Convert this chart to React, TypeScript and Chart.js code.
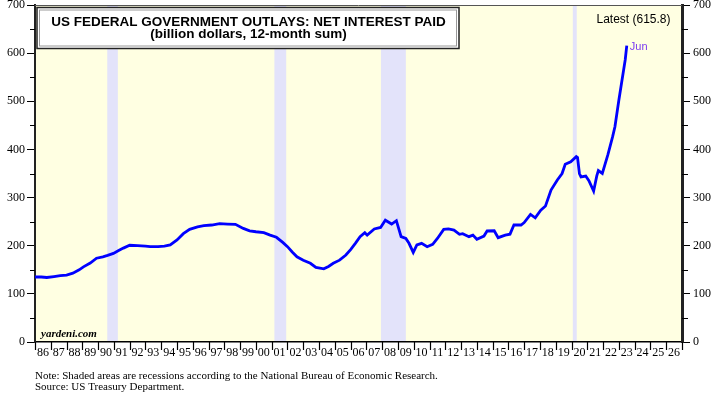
import React, { useEffect, useRef } from 'react';
import { Chart, registerables } from 'chart.js';

Chart.register(...registerables);

// ---- Data (decimal year, billion dollars, 12-month sum) ----
const dates: number[] = [
  1986.0, 1986.4, 1986.75, 1987.2, 1987.6, 1988.0, 1988.4, 1988.8, 1989.07, 1989.5, 1989.9,
  1990.3, 1990.6, 1990.97, 1991.3, 1991.6, 1992.0, 1992.5, 1993.0, 1993.3, 1993.8, 1994.2,
  1994.57, 1995.0, 1995.4, 1995.8, 1996.3, 1996.7, 1997.2, 1997.7, 1998.2, 1998.7, 1999.2,
  1999.6, 2000.0, 2000.5, 2000.9, 2001.3, 2001.7, 2002.0, 2002.3, 2002.6, 2003.0, 2003.45,
  2003.8, 2004.3, 2004.6, 2004.9, 2005.3, 2005.7, 2006.0, 2006.3, 2006.6, 2006.9, 2007.05,
  2007.5, 2007.9, 2008.2, 2008.6, 2008.9, 2009.2, 2009.5, 2009.7, 2009.97, 2010.2, 2010.5,
  2010.85, 2011.2, 2011.5, 2011.9, 2012.2, 2012.55, 2012.9, 2013.1, 2013.5, 2013.75, 2014.0,
  2014.45, 2014.65, 2015.1, 2015.35, 2015.8, 2016.1, 2016.35, 2016.8, 2017.0, 2017.4, 2017.7,
  2018.05, 2018.35, 2018.7, 2019.1, 2019.4, 2019.6, 2019.95, 2020.3, 2020.38, 2020.5, 2020.6,
  2020.9, 2021.1, 2021.4, 2021.6, 2021.7, 2021.95, 2022.3, 2022.6, 2022.75, 2023.0, 2023.3,
  2023.4, 2023.5,
];
const interestPaid: number[] = [
  135, 135, 134, 136, 138, 139, 143, 150, 156, 164, 174,
  177, 180, 184, 190, 195, 201, 200, 199, 198, 198, 199,
  201.5, 212, 225, 234, 239, 241.6, 243, 245.8, 245, 244.5, 236,
  231, 229, 227, 222, 217.5, 207, 198, 187, 177, 170, 163.5,
  155, 152, 157, 163.5, 170, 180.7, 192, 205, 218.8, 227, 222,
  234.7, 238, 253, 245, 252, 218.8, 215, 205, 186, 201.5, 205,
  198, 203, 215, 234, 235, 232.6, 223.7, 225, 218.8, 222, 213.3,
  220, 230.6, 231, 216.7, 222, 224, 243, 243, 248, 265, 258,
  274, 282.5, 315.7, 336.5, 350, 369, 374.5, 385, 383, 350, 343,
  344.8, 335, 313.7, 345, 356, 350, 388.5, 426, 447, 502.7, 565,
  585.8, 615.8,
];

const yearLabels: string[] = [
  '86', '87', '88', '89', '90', '91', '92', '93', '94', '95', '96', '97', '98', '99', '00',
  '01', '02', '03', '04', '05', '06', '07', '08', '09', '10', '11', '12', '13', '14', '15',
  '16', '17', '18', '19', '20', '21', '22', '23', '24', '25', '26',
];
const firstYear = 1986;
const yMin = 0;
const yMax = 700;
const yStep = 100;
const yMinorStep = 50;

const recessionStarts: number[] = [1990.58, 2001.17, 2007.92, 2020.08];
const recessionEnds: number[] = [1991.25, 2001.92, 2009.5, 2020.33];

const titleLines: string[] = ['US FEDERAL GOVERNMENT OUTLAYS: NET INTEREST PAID', '(billion dollars, 12-month sum)'];
const latestText = 'Latest (615.8)';
const latestMonth = 'Jun';
const sourceText = 'yardeni.com';
const noteLines: string[] = [
  'Note: Shaded areas are recessions according to the National Bureau of Economic Research.',
  'Source: US Treasury Department.',
];

const SERIF = '"Liberation Serif", "Times New Roman", serif';
const SANS = '"Liberation Sans", Arial, sans-serif';

const decorPlugin = {
  id: 'decor',
  beforeDraw(chart: any) {
    const { ctx, chartArea: a } = chart;
    const x = chart.scales.x;
    ctx.save();
    ctx.fillStyle = '#ffffe2';
    ctx.fillRect(a.left, a.top, a.right - a.left, a.bottom - a.top);
    ctx.fillStyle = 'rgb(227,227,250)';
    for (let i = 0; i < recessionStarts.length; i++) {
      const x0 = x.getPixelForValue(recessionStarts[i]);
      const x1 = x.getPixelForValue(recessionEnds[i]);
      ctx.fillRect(x0, a.top, Math.max(2, x1 - x0), a.bottom - a.top);
    }
    ctx.restore();
  },
  afterDraw(chart: any) {
    const { ctx, chartArea: a } = chart;
    const x = chart.scales.x;
    const y = chart.scales.y;
    ctx.save();
    // top border
    ctx.strokeStyle = '#555';
    ctx.lineWidth = 1;
    ctx.beginPath();
    ctx.moveTo(a.left, a.top + 0.5);
    ctx.lineTo(a.right, a.top + 0.5);
    ctx.stroke();

    // minor y ticks
    ctx.strokeStyle = '#000';
    ctx.lineWidth = 1;
    for (let v = yMin + yMinorStep; v < yMax; v += yStep) {
      const py = Math.round(y.getPixelForValue(v)) + 0.5;
      ctx.beginPath();
      ctx.moveTo(a.left - 5, py);
      ctx.lineTo(a.left, py);
      ctx.moveTo(a.right, py);
      ctx.lineTo(a.right + 6, py);
      ctx.stroke();
    }

    // x ticks & labels
    ctx.lineWidth = 1.2;
    for (let i = 0; i <= yearLabels.length; i++) {
      const px = Math.round(x.getPixelForValue(firstYear + i)) + 0.5;
      ctx.beginPath();
      ctx.moveTo(px, a.bottom);
      ctx.lineTo(px, a.bottom + 8);
      ctx.stroke();
    }
    ctx.fillStyle = '#000';
    ctx.font = `12px ${SERIF}`;
    ctx.textAlign = 'center';
    ctx.textBaseline = 'middle';
    yearLabels.forEach((lbl, i) => {
      ctx.fillText(lbl, x.getPixelForValue(firstYear + i + 0.5), a.bottom + 11);
    });

    // title box
    const bx = 37, by = 7.5, bw = 422, bh = 41;
    ctx.fillStyle = '#fff';
    ctx.fillRect(bx, by, bw, bh);
    ctx.strokeStyle = '#999';
    ctx.lineWidth = 1;
    ctx.strokeRect(bx + 2.5, by + 2.5, bw - 5, bh - 5);
    ctx.strokeStyle = '#222';
    ctx.lineWidth = 1.5;
    ctx.strokeRect(bx, by, bw, bh);

    ctx.fillStyle = '#000';
    ctx.font = `bold 13.5px ${SANS}`;
    ctx.textAlign = 'center';
    ctx.textBaseline = 'middle';
    ctx.fillText(titleLines[0], 248.5, 22.5);
    ctx.fillText(titleLines[1], 248.5, 34.5);

    // latest
    ctx.font = `12px ${SANS}`;
    ctx.fillText(latestText, 633.5, 20);

    // last-point month label
    const lastX = x.getPixelForValue(dates[dates.length - 1]);
    const lastY = y.getPixelForValue(interestPaid[interestPaid.length - 1]);
    ctx.fillStyle = '#7a3cf0';
    ctx.font = `11px ${SANS}`;
    ctx.textAlign = 'left';
    ctx.fillText(latestMonth, lastX + 3, lastY + 1);

    // yardeni.com
    ctx.fillStyle = '#000';
    ctx.font = `italic bold 11px ${SERIF}`;
    ctx.textAlign = 'left';
    ctx.textBaseline = 'alphabetic';
    ctx.fillText(sourceText, 41, 337);

    // notes
    ctx.font = `11px ${SERIF}`;
    ctx.textBaseline = 'middle';
    ctx.fillText(noteLines[0], 35, 376);
    ctx.fillText(noteLines[1], 35, 387);
    ctx.restore();
  },
};

export default function App() {
  const ref = useRef<HTMLCanvasElement | null>(null);
  useEffect(() => {
    document.body.style.margin = '0';
    const canvas = ref.current!;
    const points = dates.map((d, i) => ({ x: d, y: interestPaid[i] }));
    const yTickCommon = {
      stepSize: yStep,
      color: '#000',
      font: { family: SERIF, size: 12 },
    };
    const chart = new Chart(canvas, {
      type: 'line',
      data: {
        datasets: [
          {
            data: points,
            borderColor: '#0000ff',
            borderWidth: 2.8,
            pointRadius: 0,
            tension: 0,
            fill: false,
          },
        ],
      },
      options: {
        responsive: false,
        animation: false,
        events: [],
        layout: { padding: { top: 5, left: 0, right: 0, bottom: 0 } },
        plugins: { legend: { display: false }, tooltip: { enabled: false }, title: { display: false } },
        scales: {
          x: {
            type: 'linear',
            min: firstYear,
            max: firstYear + yearLabels.length,
            ticks: { display: false },
            grid: { display: false, drawTicks: false },
            border: { display: true, color: '#000', width: 1.5 },
            afterFit: (s: any) => {
              s.height = 52;
              s.paddingLeft = 0;
              s.paddingRight = 0;
            },
          },
          y: {
            position: 'left',
            min: yMin,
            max: yMax,
            ticks: { ...yTickCommon, padding: 2 },
            grid: { drawOnChartArea: false, tickLength: 8, color: '#000', tickWidth: 1 },
            border: { display: true, color: '#222', width: 2 },
            afterFit: (s: any) => {
              s.width = 35;
              s.paddingTop = 0;
              s.paddingBottom = 0;
            },
          },
          y2: {
            position: 'right',
            min: yMin,
            max: yMax,
            ticks: { ...yTickCommon, padding: 3 },
            grid: { drawOnChartArea: false, tickLength: 8, color: '#000', tickWidth: 1 },
            border: { display: true, color: '#222', width: 3 },
            afterFit: (s: any) => {
              s.width = 39;
              s.paddingTop = 0;
              s.paddingBottom = 0;
            },
          },
        },
      },
      plugins: [decorPlugin],
    } as any);
    return () => chart.destroy();
  }, []);
  return (
    <div style={{ width: 721, height: 394 }}>
      <canvas ref={ref} width={721} height={394} style={{ display: 'block', width: 721, height: 394 }} />
    </div>
  );
}
